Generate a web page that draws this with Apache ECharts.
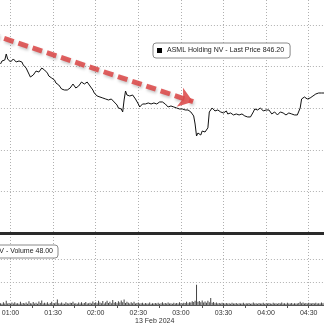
<!DOCTYPE html>
<html><head><meta charset="utf-8">
<script src="https://cdn.jsdelivr.net/npm/echarts@6/dist/echarts.min.js"></script>
<style>html,body{margin:0;padding:0;background:#fff}#c{width:324px;height:329px}</style>
</head><body><div id="c"></div>
<script>
// ---- data (minutes after midnight, 13 Feb 2024) ----
const times = [53,54,55,56,57,58,59,60,61,62,63,64,65,66,67,68,69,70,71,72,73,74,75,76,77,78,79,80,81,82,83,84,85,86,87,88,89,90,91,92,93,94,95,96,97,98,99,100,101,102,103,104,105,106,107,108,109,110,111,112,113,114,115,116,117,118,119,120,121,122,123,124,125,126,127,128,129,130,131,132,133,134,135,136,137,138,139,140,141,142,143,144,145,146,147,148,149,150,151,152,153,154,155,156,157,158,159,160,161,162,163,164,165,166,167,168,169,170,171,172,173,174,175,176,177,178,179,180,181,182,183,184,185,186,187,188,189,190,191,192,193,194,195,196,197,198,199,200,201,202,203,204,205,206,207,208,209,210,211,212,213,214,215,216,217,218,219,220,221,222,223,224,225,226,227,228,229,230,231,232,233,234,235,236,237,238,239,240,241,242,243,244,245,246,247,248,249,250,251,252,253,254,255,256,257,258,259,260,261,262,263,264,265,266,267,268,269,270,271,272,273,274,275,276,277,278,279,280,281];
const prices = [
849.69,850.05,849.93,850.17,850.89,850.29,850.05,849.93,850.17,850.29,
850.05,849.93,850.17,850.05,849.81,849.93,849.57,849.33,849.20,848.96,
848.48,848.12,848.00,848.36,848.48,848.84,848.72,848.72,848.96,849.20,
849.20,848.96,848.84,848.60,848.24,848.00,848.00,848.12,847.76,847.40,
847.28,847.16,846.92,846.68,846.68,846.56,846.44,846.56,846.68,846.80,
847.04,847.28,847.04,846.80,846.80,847.04,847.28,847.52,847.52,847.28,
847.40,847.52,847.28,847.04,846.80,846.56,846.20,845.96,845.84,845.96,
845.72,845.48,845.60,845.72,845.48,845.24,845.36,845.60,845.48,845.24,
845.12,845.00,844.76,844.40,844.16,844.28,843.92,845.36,846.44,845.96,
846.08,845.84,845.84,845.96,845.72,845.48,845.24,844.88,844.52,844.76,
844.88,845.00,844.88,844.76,845.00,845.12,844.88,844.88,845.00,845.12,
844.88,845.00,845.12,844.88,845.12,845.24,844.88,844.64,844.52,844.76,
844.64,844.40,844.52,844.64,844.40,844.28,844.28,844.40,844.28,844.16,
844.16,844.28,844.16,844.04,843.92,843.80,843.44,842.47,841.03,841.39,
841.27,841.15,841.63,841.75,841.51,841.39,842.01,843.92,844.16,844.40,
844.16,844.04,843.92,844.16,844.04,843.92,843.80,843.80,843.92,844.04,
843.68,843.80,843.80,843.56,843.56,843.80,843.68,843.44,843.56,843.80,
843.68,843.56,843.44,843.56,843.32,843.44,843.32,843.20,843.92,844.28,
844.40,844.16,844.28,844.40,844.16,844.04,844.28,844.16,844.04,844.16,
843.92,843.68,843.80,843.92,843.68,843.56,843.80,843.92,843.68,843.80,
843.80,843.56,843.68,843.80,843.56,843.68,843.68,843.56,843.44,843.56,
843.32,844.40,845.48,845.60,845.72,845.60,845.48,845.72,845.60,845.48,
845.84,845.96,846.08,846.08,846.20,846.08,846.20,846.32,846.20];
const volumes = [
40,25,60,35,90,30,45,20,55,35,
60,30,40,25,70,35,45,30,55,25,
80,40,30,65,35,50,25,75,45,100,
35,50,30,60,25,45,70,30,40,55,
120,40,30,55,35,25,60,40,30,50,
45,70,30,40,25,55,35,60,30,45,
65,30,40,50,35,75,45,60,40,90,
55,40,85,35,60,95,45,70,40,110,
50,65,40,80,55,100,60,120,45,70,
50,35,60,40,70,30,45,55,35,40,
50,25,45,35,30,55,25,40,30,45,
35,50,25,40,60,30,45,35,55,30,
40,25,50,35,45,30,60,40,35,50,
45,70,40,60,55,80,65,90,440,70,
85,60,100,55,75,50,90,60,150,50,
65,40,55,35,45,30,50,40,35,45,
30,40,25,50,30,35,45,25,40,30,
35,50,25,40,30,45,25,35,55,30,
40,25,45,35,30,50,25,40,30,45,
35,25,50,30,40,25,45,35,55,30,
40,25,50,35,30,45,25,40,35,30,
45,70,40,55,35,45,30,50,40,35,
45,30,50,35,40,30,55,40,48];
const timeLabels = ['00:30','01:00','01:30','02:00','02:30','03:00','03:30','04:00','04:30','05:00'];
const dateLabel = '13 Feb 2024';
const priceName = 'ASML Holding NV - Last Price 846.20';
const volumeName = 'ASML Holding NV - Volume 48.00';
const arrowStart = [45.5, 853.34];
const arrowEnd = [188.6, 845.15];

// ---- chart ----
const font = '"Liberation Sans", Arial, sans-serif';
const gridColor = '#b0b0b0';
const dotted = {show:true, showMinLine:false, showMaxLine:false, lineStyle:{color:gridColor, type:[1,2], width:1}};
const chart = echarts.init(document.getElementById('c'));
const gBase = {left:-32.1, right:-27.3, outerBoundsMode:'none', containLabel:false};
chart.setOption({
  animation:false,
  backgroundColor:'#fff',
  grid:[
    Object.assign({top:0, bottom:96}, gBase),
    Object.assign({top:234, bottom:24}, gBase),
    Object.assign({top:250, bottom:24}, gBase)
  ],
  xAxis:[
    {gridIndex:0, type:'value', min:30, max:300, interval:30,
     axisLine:{show:true, onZero:false, lineStyle:{color:'#2a2a2a', width:3}},
     axisTick:{show:false}, axisLabel:{show:false},
     splitLine:{show:true, lineStyle:{color:gridColor, type:[1,2], width:1}}},
    {gridIndex:1, type:'value', min:30, max:300, interval:30,
     axisLine:{show:true, onZero:false, lineStyle:{color:'#555', width:1}},
     axisTick:{show:true, length:3, lineStyle:{color:'#555'}},
     minorTick:{show:true, splitNumber:2, length:3, lineStyle:{color:'#555'}},
     axisLabel:{show:true, fontSize:7, color:'#333', margin:5, fontFamily:font,
       hideOverlap:false,
       formatter:v => timeLabels[Math.round((v-30)/30)]},
     splitLine:{show:true, lineStyle:{color:gridColor, type:[1,2], width:1}}},
    {gridIndex:2, type:'value', min:30, max:300, show:false}
  ],
  yAxis:[
    {gridIndex:0, type:'value', min:829.37, max:857.38, show:false},
    {gridIndex:0, type:'value', min:0, max:5.601, interval:1,
     axisLine:{show:false}, axisTick:{show:false}, axisLabel:{show:false}, splitLine:dotted},
    {gridIndex:1, type:'value', min:0, max:1543.5, show:false},
    {gridIndex:2, type:'value', min:0, max:2.391, interval:1,
     axisLine:{show:false}, axisTick:{show:false}, axisLabel:{show:false}, splitLine:dotted}
  ],
  legend:[
    {data:[priceName], left:153, top:43, orient:'horizontal', selectedMode:false,
     icon:'rect', itemWidth:5, itemHeight:5, itemStyle:{color:'#000'},
     textStyle:{fontSize:7, color:'#222', fontFamily:font},
     borderColor:'#8a8a8a', borderWidth:1, borderRadius:3, padding:[4,6,4,4], backgroundColor:'#fff'},
    {data:[volumeName], right:266, top:245, orient:'horizontal', selectedMode:false,
     icon:'rect', itemWidth:5, itemHeight:5, itemStyle:{color:'#000'},
     textStyle:{fontSize:7, color:'#222', fontFamily:font},
     borderColor:'#8a8a8a', borderWidth:1, borderRadius:3, padding:[3,5,3,4], backgroundColor:'#fff'}
  ],
  graphic:[
    {type:'text', left:135, top:318, silent:true,
     style:{text:dateLabel, fontSize:7, fill:'#333', fontFamily:font}}
  ],
  series:[
    {name:priceName, type:'line', xAxisIndex:0, yAxisIndex:0,
     data:times.map((t,i)=>[t, prices[i]]), showSymbol:false, symbol:'none',
     lineStyle:{color:'#111', width:1}, itemStyle:{color:'#111'},
     markLine:{silent:true, symbol:['none','arrow'], symbolSize:[15,14],
       label:{show:false},
       lineStyle:{color:'#dc4a4a', width:5, type:[10,5], opacity:0.88,
         shadowColor:'rgba(0,0,0,0.25)', shadowBlur:3, shadowOffsetX:1, shadowOffsetY:2},
       data:[[{coord:arrowStart}, {coord:arrowEnd}]]}},
    {name:volumeName, type:'bar', xAxisIndex:1, yAxisIndex:2,
     data:times.map((t,i)=>[t, volumes[i]]), barWidth:1,
     itemStyle:{color:'#444'}}
  ]
});
</script>
</body></html>
